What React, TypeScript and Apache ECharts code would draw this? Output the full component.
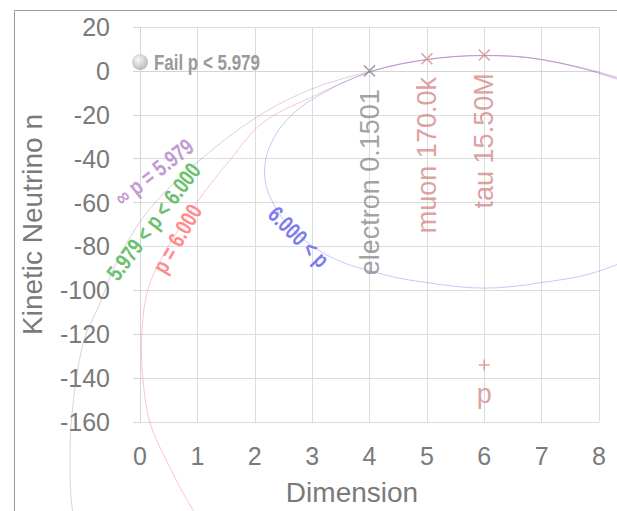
import React, { useEffect, useRef } from "react";
import * as echarts from "echarts";

// ---- data ----
const xMin = 0, xMax = 8, xStep = 1;
const yMin = -160, yMax = 20, yStep = 20;

// curve "p = 5.979" (outer, faint purple)
const curvePurple: [number, number][] = [
  [9.5, -18], [9.0, -10], [8.31, -2.8], [7.0, 5.2], [6.0, 7.0], [5.0, 5.2], [4.0, -0.3],
  [2.96, -8.6], [2.04, -21], [1.05, -40.5], [0.2, -62], [-0.35, -84], [-0.7, -106],
  [-0.99, -124], [-1.18, -155], [-1.22, -178], [-1.18, -199.5], [-1.0, -220],
];
// curve "p = 6.000" (pink)
const curvePink: [number, number][] = [
  [9.5, -18], [9.0, -10.8], [8.31, -3.3], [7.0, 5.1], [6.0, 7.0], [5.0, 5.1], [4.0, -0.6],
  [2.96, -12.3], [2.14, -23.6], [1.57, -40.5], [0.99, -60], [0.47, -81], [0.14, -99.5],
  [0.03, -121], [0.05, -140], [0.17, -160], [0.47, -178], [0.92, -200], [1.4, -218],
];
// curve "6.000 < p" (blue, closed)
const curveBlue: [number, number][] = [
  [9.83, -46], [9.6, -27.9], [8.93, -11.9], [8.31, -3.7], [7.0, 5.2], [6.0, 7.0], [5.0, 5.2],
  [4.0, -0.5], [3.07, -11.9], [2.56, -22.3], [2.26, -34.5], [2.17, -46], [2.26, -57],
  [2.61, -71], [3.3, -84.5], [4.2, -92.5], [5.0, -96.5], [6.0, -99], [7.0, -96.5],
  [7.98, -91.4], [8.93, -80], [9.6, -64], [9.83, -46],
];

const curveLabelTexts = ["∞ p = 5.979", "5.979 < p < 6.000", "p = 6.000", "6.000 < p"];
const curveLabelX = [0.24, 0.23, 0.64, 2.77];
const curveLabelY = [-46, -68.6, -76.4, -75.5];

const particleNames = ["electron 0.1501", "muon 170.0k", "tau 15.50M"];
const particleX = [4, 5, 6];
const particleY = [0, 5.5, 7.2];

const protonName = "p";
const protonPoint: [number, number] = [6, -134];

const failName = "Fail p < 5.979";
const failPoint: [number, number] = [0, 4];

// ---- styles ----
const FONT = "'Liberation Sans', Arial, sans-serif";
const TXT = "#7a7a7a";
const curveColors = ["rgba(160,140,175,0.4)", "rgba(240,120,140,0.42)", "rgba(110,110,235,0.38)"];
const curveLabelColors = ["#c39bd3", "#6cc16c", "#ff8c8c", "#7c7cf0"];
const curveLabelRot = [38, 53, 60, -45];
const particleColors = ["#8a8a8a", "#d48888", "#d48888"];
const NARROW_SCALE = 0.77;

export default function App() {
  const ref = useRef<HTMLDivElement>(null);
  useEffect(() => {
    document.body.style.margin = "0";
    if (!ref.current) return;
    const chart = echarts.init(ref.current, null, { renderer: "svg" });

    const curveSeries = (data: [number, number][], color: string) => ({
      type: "custom",
      coordinateSystem: "cartesian2d",
      clip: false,
      silent: true,
      z: 2,
      data,
      encode: { x: 0, y: 1 },
      renderItem: (params: any, api: any) => {
        if (params.dataIndex !== 0) return null;
        const pts = data.map((p) => api.coord(p));
        return {
          type: "polyline",
          shape: { points: pts, smooth: 0.35, smoothConstraint: false },
          style: { stroke: color, fill: "none", lineWidth: 1 },
        };
      },
    });

    const option: any = {
      animation: false,
      backgroundColor: "#ffffff",
      grid: { left: 140, right: 18, top: 27, bottom: 87 },
      graphic: [
        {
          type: "rect",
          left: 12,
          top: 8,
          shape: { width: 700, height: 600 },
          style: { fill: "none", stroke: "#9a9a9a", lineWidth: 1 },
          silent: true,
          z: -10,
        },
      ],
      xAxis: {
        type: "value",
        min: xMin,
        max: xMax,
        interval: xStep,
        name: "Dimension",
        nameLocation: "middle",
        nameGap: 56,
        nameTextStyle: { fontSize: 28, color: TXT, fontFamily: FONT, padding: [0, 35, 0, 0] },
        axisLine: { show: true, lineStyle: { color: "#d4d4d4" } },
        axisTick: { show: true, length: 7, lineStyle: { color: "#d4d4d4" } },
        axisLabel: { fontSize: 25, color: TXT, fontFamily: FONT, margin: 21 },
        splitLine: { show: true, lineStyle: { color: "#dcdcdc" } },
      },
      yAxis: {
        type: "value",
        min: yMin,
        max: yMax,
        interval: yStep,
        name: "Kinetic Neutrino n",
        nameLocation: "middle",
        nameGap: 94,
        nameTextStyle: { fontSize: 28, color: TXT, fontFamily: FONT },
        axisLine: { show: true, lineStyle: { color: "#d4d4d4" } },
        axisTick: { show: true, length: 7, lineStyle: { color: "#d4d4d4" } },
        axisLabel: { fontSize: 25, color: TXT, fontFamily: FONT, margin: 30 },
        splitLine: { show: true, lineStyle: { color: "#dcdcdc" } },
      },
      series: [
        curveSeries(curvePurple, curveColors[0]),
        curveSeries(curvePink, curveColors[1]),
        curveSeries(curveBlue, curveColors[2]),
        {
          type: "custom",
          coordinateSystem: "cartesian2d",
          clip: false,
          silent: true,
          z: 5,
          data: curveLabelTexts.map((t, i) => [curveLabelX[i], curveLabelY[i]]),
          encode: { x: 0, y: 1 },
          renderItem: (params: any, api: any) => {
            const i = params.dataIndex;
            const c = api.coord([api.value(0), api.value(1)]);
            return {
              type: "text",
              x: c[0],
              y: c[1],
              rotation: (curveLabelRot[i] * Math.PI) / 180,
              scaleX: NARROW_SCALE,
              style: {
                text: curveLabelTexts[i],
                fill: curveLabelColors[i],
                fontSize: 23,
                fontWeight: "bold",
                fontFamily: FONT,
                align: "center",
                verticalAlign: "middle",
              },
            };
          },
        },
        {
          type: "scatter",
          silent: true,
          symbol: "path://M0,0L10,10M10,0L0,10",
          symbolSize: 11,
          z: 6,
          data: particleNames.map((n, i) => ({
            name: n,
            value: [particleX[i], particleY[i]],
            itemStyle: { color: "rgba(0,0,0,0)", borderColor: particleColors[i], borderWidth: 1.5 },
            label: {
              show: true,
              formatter: n,
              position: "bottom",
              distance: 12,
              rotate: 90,
              align: "right",
              verticalAlign: "middle",
              color: particleColors[i],
              fontSize: 27,
              fontFamily: FONT,
            },
          })),
        },
        {
          type: "scatter",
          silent: true,
          symbol: "path://M5,0L5,10M0,5L10,5",
          symbolSize: 11,
          z: 6,
          data: [
            {
              name: protonName,
              value: protonPoint,
              itemStyle: { color: "rgba(0,0,0,0)", borderColor: "#d48888", borderWidth: 1.5 },
              label: {
                show: true,
                formatter: protonName,
                position: "bottom",
                distance: 9,
                color: "#d48888",
                fontSize: 27,
                fontFamily: FONT,
              },
            },
          ],
        },
        {
          type: "scatter",
          silent: true,
          symbol: "circle",
          symbolSize: 16,
          clip: false,
          z: 7,
          data: [
            {
              name: failName,
              value: failPoint,
              itemStyle: {
                color: new echarts.graphic.RadialGradient(0.4, 0.35, 0.7, [
                  { offset: 0, color: "#f6f6f6" },
                  { offset: 1, color: "#a4a4a4" },
                ]),
              },
            },
          ],
        },
        {
          type: "custom",
          coordinateSystem: "cartesian2d",
          clip: false,
          silent: true,
          z: 7,
          data: [failPoint],
          encode: { x: 0, y: 1 },
          renderItem: (params: any, api: any) => {
            const c = api.coord([api.value(0), api.value(1)]);
            return {
              type: "text",
              x: c[0] + 14,
              y: c[1],
              scaleX: NARROW_SCALE,
              style: {
                text: failName,
                fill: "#9a9a9a",
                fontSize: 22,
                fontWeight: "bold",
                fontFamily: FONT,
                align: "left",
                verticalAlign: "middle",
              },
            };
          },
        },
      ],
    };
    chart.setOption(option);
    return () => chart.dispose();
  }, []);
  return <div ref={ref} style={{ width: 617, height: 511 }} />;
}
